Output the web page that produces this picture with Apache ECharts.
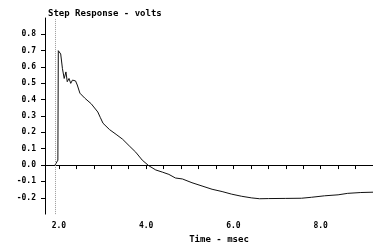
<!DOCTYPE html>
<html>
<head>
<meta charset="utf-8">
<script src="https://cdn.jsdelivr.net/npm/echarts@6/dist/echarts.min.js"></script>
<style>
  html, body { margin: 0; padding: 0; background: #fff; }
  #chart { width: 373px; height: 249px; }
</style>
</head>
<body>
<div id="chart"></div>
<script>
// 阶跃响应数据 (time in msec, volts) - 从图上读出
const timeMs = [1.91, 1.95, 1.975, 1.985, 2.00, 2.04, 2.08, 2.12, 2.16, 2.19, 2.23, 2.27, 2.31, 2.38,
    2.42, 2.48, 2.59, 2.74, 2.89, 2.95, 3.01, 3.16, 3.31, 3.46, 3.61, 3.76, 3.91, 4.06, 4.22, 4.37,
    4.52, 4.67, 4.83, 5.05, 5.28, 5.51, 5.74, 5.96, 6.19, 6.42, 6.60, 6.80, 7.20, 7.56, 7.79, 8.09,
    8.40, 8.62, 8.92, 9.20];
const volts = [0.00, 0.01, 0.03, 0.70, 0.71, 0.68, 0.59, 0.53, 0.57, 0.51, 0.53, 0.50, 0.52, 0.515,
    0.49, 0.44, 0.41, 0.375, 0.325, 0.29, 0.256, 0.217, 0.188, 0.158, 0.118, 0.079, 0.03, -0.004, -0.03, -0.043,
    -0.057, -0.079, -0.085, -0.108, -0.128, -0.148, -0.162, -0.178, -0.191, -0.201, -0.206, -0.205, -0.204, -0.203, -0.197, -0.188,
    -0.182, -0.173, -0.168, -0.166];

const stepTime = 1.91;
const xLabelValues = [2, 4, 6, 8];
const xTickValues = [2.0, 2.4, 2.8, 3.2, 3.6, 4.0, 4.4, 4.8, 5.2, 5.6, 6.0, 6.4, 6.8, 7.2, 7.6, 8.0, 8.4, 8.8, 9.2];
const yTickValues = [-0.2, -0.1, 0.0, 0.1, 0.2, 0.3, 0.4, 0.5, 0.6, 0.7, 0.8];

const MONO = '"DejaVu Sans Mono", monospace';

const chart = echarts.init(document.getElementById('chart'), null, { renderer: 'canvas' });

const option = {
    animation: false,
    backgroundColor: '#fff',
    title: {
        text: 'Step Response - volts',
        left: 43, top: 4,
        textStyle: { fontFamily: MONO, fontSize: 9, fontWeight: 'bold', color: '#000' }
    },
    grid: { left: 45, top: 18, right: -1, bottom: 29 },
    xAxis: {
        type: 'value',
        min: 1.68, max: 9.2,
        name: 'Time - msec',
        nameLocation: 'middle',
        nameGap: 20,
        nameTextStyle: { fontFamily: MONO, fontSize: 9, fontWeight: 'bold', color: '#000', padding: [0, 0, 0, 20] },
        axisLine: { lineStyle: { color: '#000', width: 1 } },
        axisTick: { show: true, inside: false, length: 4, customValues: xTickValues, lineStyle: { color: '#000' } },
        axisLabel: {
            customValues: xLabelValues,
            margin: 8,
            fontFamily: MONO, fontSize: 8, fontWeight: 'bold', color: '#000',
            formatter: v => v.toFixed(1)
        },
        splitLine: { show: false }
    },
    yAxis: {
        type: 'value',
        min: -0.3, max: 0.9,
        axisLine: { show: true, lineStyle: { color: '#000', width: 1 } },
        axisTick: { show: true, length: 4, customValues: yTickValues, lineStyle: { color: '#000' } },
        axisLabel: {
            customValues: yTickValues,
            margin: 9,
            fontFamily: MONO, fontSize: 8, fontWeight: 'bold', color: '#000',
            formatter: v => v.toFixed(1)
        },
        splitLine: { show: false }
    },
    series: [{
        type: 'line',
        data: timeMs.map((t, i) => [t, volts[i]]),
        showSymbol: false,
        lineStyle: { color: '#111', width: 1 },
        markLine: {
            silent: true,
            symbol: 'none',
            label: { show: false },
            lineStyle: { color: '#999', type: 'dotted', width: 1 },
            data: [{ xAxis: stepTime }]
        }
    }]
};
chart.setOption(option);
</script>
</body>
</html>
